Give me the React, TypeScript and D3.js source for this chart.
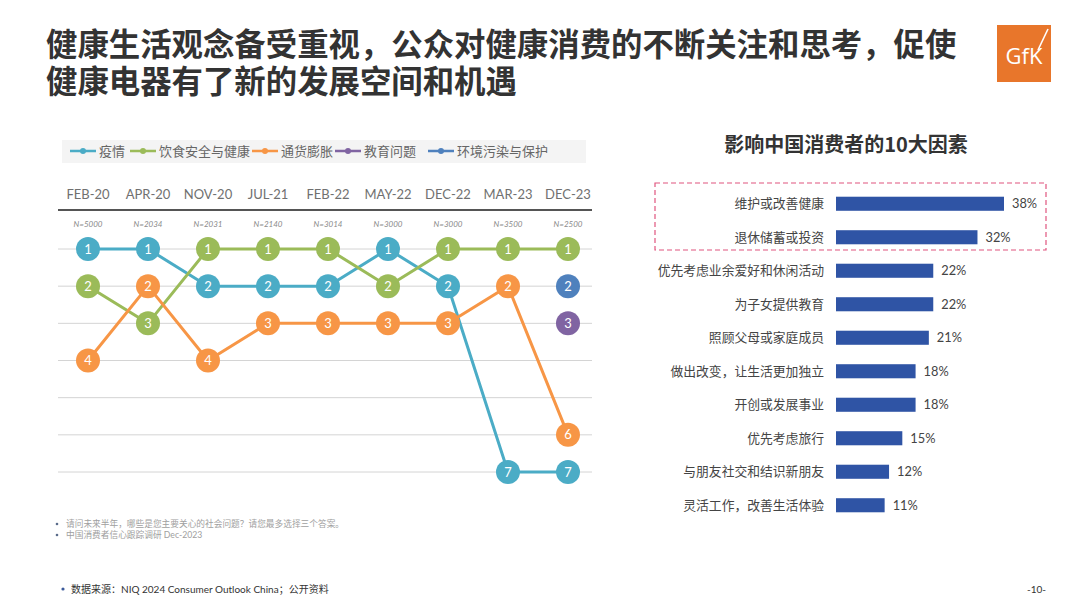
import React from 'react';
import * as d3 from 'd3';

const periods = ['FEB-20', 'APR-20', 'NOV-20', 'JUL-21', 'FEB-22', 'MAY-22', 'DEC-22', 'MAR-23', 'DEC-23'];
const sampleSizes = [5000, 2034, 2031, 2140, 3014, 3000, 3000, 3500, 2500];

const seriesNames = ['疫情', '饮食安全与健康', '通货膨胀', '教育问题', '环境污染与保护'];
const seriesColors = ['#4BACC6', '#9BBB59', '#F79646', '#8064A2', '#4F81BD'];
const rankPandemic = [1, 1, 2, 2, 2, 1, 2, 7, 7];
const rankFood = [2, 3, 1, 1, 1, 2, 1, 1, 1];
const rankInflation = [4, 2, 4, 3, 3, 3, 3, 2, 6];
const rankEducation = [null, null, null, null, null, null, null, null, 3];
const rankEnvironment = [null, null, null, null, null, null, null, null, 2];
const rankRows = [1, 2, 3, 4, 5, 6, 7];

const factors = ['维护或改善健康', '退休储蓄或投资', '优先考虑业余爱好和休闲活动', '为子女提供教育', '照顾父母或家庭成员', '做出改变，让生活更加独立', '开创或发展事业', '优先考虑旅行', '与朋友社交和结识新朋友', '灵活工作，改善生活体验'];
const factorPct = [38, 32, 22, 22, 21, 18, 18, 15, 12, 11];

const titleLines = ['健康生活观念备受重视，公众对健康消费的不断关注和思考，促使', '健康电器有了新的发展空间和机遇'];

const FONT = "Lato, 'Noto Sans CJK SC', sans-serif";
const CJK = "'Noto Sans CJK SC', sans-serif";

export default function App() {
  const rankSeries = [rankPandemic, rankFood, rankInflation, rankEducation, rankEnvironment];
  const x = d3.scalePoint<string>().domain(periods).range([88, 568]);
  const y = d3.scaleLinear().domain([1, 7]).range([249, 472]);
  const line = d3
    .line<number | null>()
    .defined((d) => d != null)
    .x((_, i) => x(periods[i]) as number)
    .y((d) => y(d as number));

  const bx = d3.scaleLinear().domain([0, 38]).range([836, 1004]);
  const by = d3.scaleBand<string>().domain(factors).range([187, 522]).paddingInner(0.58).paddingOuter(0.29);

  const legendX = [70, 130, 252, 335, 428];

  return (
    <svg width={1080} height={608} style={{ position: 'absolute', left: 0, top: 0, background: '#fff' }}>
      {/* Title */}
      <text x={46} y={56} fontFamily={CJK} fontWeight={700} fontSize={31.4} fill="#333">
        <tspan x={46} y={56}>{titleLines[0]}</tspan>
        <tspan x={46} y={93}>{titleLines[1]}</tspan>
      </text>

      {/* GfK logo */}
      <rect x={997} y={25} width={54} height={57} fill="#E8762B" />
      <text x={1024} y={64} textAnchor="middle" fontFamily="'Open Sans', sans-serif" fontSize={22} fill="#fff">GfK</text>
      <line x1={1038} y1={50} x2={1048} y2={29} stroke="#fff" strokeWidth={1.6} />

      {/* Legend */}
      <rect x={62} y={140} width={524} height={23} fill="#f4f4f4" />
      {seriesNames.map((n, i) => (
        <g key={n}>
          <line x1={legendX[i]} x2={legendX[i] + 26} y1={151} y2={151} stroke={seriesColors[i]} strokeWidth={2.5} />
          <circle cx={legendX[i] + 13} cy={151} r={3} fill={seriesColors[i]} />
          <text x={legendX[i] + 29} y={156} fontFamily={CJK} fontSize={13} fill="#666">{n}</text>
        </g>
      ))}

      {/* Column headers */}
      {periods.map((p, i) => (
        <g key={p}>
          <text x={x(p)} y={199} textAnchor="middle" fontFamily={FONT} fontSize={13} fill="#707070">{p}</text>
          <text x={x(p)} y={227} textAnchor="middle" fontFamily={FONT} fontStyle="italic" fontSize={8} fill="#8a8a8a">N={sampleSizes[i]}</text>
        </g>
      ))}
      <line x1={58} x2={592} y1={210} y2={210} stroke="#555" strokeWidth={2} />

      {/* Grid rows */}
      {rankRows.map((r) => (
        <line key={r} x1={58} x2={592} y1={y(r)} y2={y(r)} stroke="#d4d4d4" strokeWidth={1} />
      ))}

      {/* Lines */}
      {rankSeries.map((s, i) => (
        <path key={i} d={line(s) || ''} fill="none" stroke={seriesColors[i]} strokeWidth={3} />
      ))}
      {/* Circles */}
      {rankSeries.map((s, i) =>
        s.map((v, j) =>
          v == null ? null : (
            <g key={`${i}-${j}`}>
              <circle cx={x(periods[j])} cy={y(v)} r={12} fill={seriesColors[i]} />
              <text x={x(periods[j])} y={y(v) + 4.5} textAnchor="middle" fontFamily={FONT} fontSize={13} fill="#fff">{v}</text>
            </g>
          )
        )
      )}

      {/* Footnotes */}
      <circle cx={57} cy={524} r={1.3} fill="#5a6b8a" />
      <text x={66} y={527} fontFamily={CJK} fontSize={8.7} fill="#a0a0a0">请问未来半年，哪些是您主要关心的社会问题？请您最多选择三个答案。</text>
      <circle cx={57} cy={535} r={1.3} fill="#5a6b8a" />
      <text x={66} y={538} fontFamily={FONT} fontSize={8.7} fill="#a0a0a0">中国消费者信心跟踪调研 Dec-2023</text>

      <circle cx={63} cy={589} r={1.6} fill="#3b5a9a" />
      <text x={71} y={593} fontFamily={FONT} fontSize={10} fill="#333">数据来源：NIQ 2024 Consumer Outlook China；公开资料</text>
      <text x={1046} y={593} textAnchor="end" fontFamily={FONT} fontSize={10} fill="#333">-10-</text>

      {/* Right chart */}
      <text x={846} y={152} textAnchor="middle" fontFamily={CJK} fontWeight={700} fontSize={20} fill="#333">影响中国消费者的10大因素</text>
      <rect x={655} y={183} width={391} height={67} fill="none" stroke="#E0557F" strokeWidth={1.2} strokeDasharray="5,3" />
      {factors.map((f, i) => (
        <g key={f}>
          <text x={824} y={(by(f) as number) + by.bandwidth() / 2 + 4.5} textAnchor="end" fontFamily={CJK} fontSize={12.8} fill="#444">{f}</text>
          <rect x={bx(0)} y={by(f)} width={bx(factorPct[i]) - bx(0)} height={by.bandwidth()} fill="#2F54A5" />
          <text x={bx(factorPct[i]) + 8} y={(by(f) as number) + by.bandwidth() / 2 + 4.5} fontFamily={FONT} fontSize={12.8} fill="#444">{factorPct[i]}%</text>
        </g>
      ))}
    </svg>
  );
}
